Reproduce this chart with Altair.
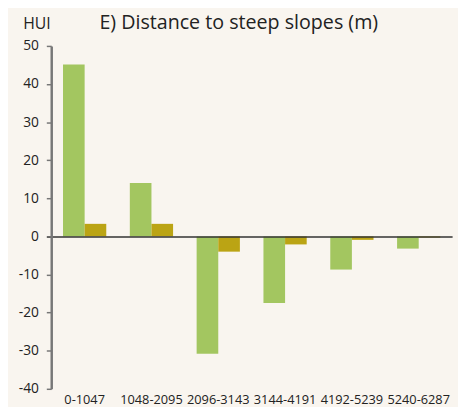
import altair as alt
import pandas as pd

categories = ["0-1047", "1048-2095", "2096-3143", "3144-4191", "4192-5239", "5240-6287"]
series_a = [45.1, 14.0, -30.8, -17.5, -8.7, -3.2]
series_b = [3.3, 3.3, -4.0, -2.1, -0.9, -0.3]
series_names = ["A", "B"]
y_ticks = [50, 40, 30, 20, 10, 0, -10, -20, -30, -40]

rows = []
for c, a, b in zip(categories, series_a, series_b):
    rows.append({"cat": c, "series": "A", "value": a})
    rows.append({"cat": c, "series": "B", "value": b})
df = pd.DataFrame(rows)

BG = "#f9f5ef"
FONT = "Open Sans"

is_zero = "datum.value == 0"

chart = alt.Chart(df).mark_bar().encode(
    x=alt.X("cat:N", sort=categories,
            scale=alt.Scale(paddingInner=0, paddingOuter=0),
            axis=alt.Axis(title=None, labelAngle=0, domain=False, ticks=False,
                          labelFont=FONT, labelFontSize=13, labelColor="#222",
                          labelPadding=5)),
    xOffset=alt.XOffset("series:N", sort=series_names,
                        scale=alt.Scale(paddingInner=0, paddingOuter=0.545)),
    y=alt.Y("value:Q", scale=alt.Scale(domain=[-40, 50], nice=False, zero=False),
            axis=alt.Axis(values=y_ticks, title="HUI", titleAngle=0,
                          labelExpr="toString(datum.value)",
                          titleX=-29, titleY=-18, titleAlign="left",
                          titleBaseline="alphabetic",
                          titleFont=FONT, titleFontSize=16, titleFontWeight="normal",
                          titleColor="#222", labelOverlap=False,
                          labelFont=FONT, labelFontSize=14, labelColor="#222",
                          labelPadding=8,
                          domainColor="#777", domainWidth=2.5,
                          tickColor={"condition": {"test": is_zero, "value": "#333"}, "value": "#777"},
                          tickSize=5, tickWidth=1.5,
                          grid=True,
                          gridColor="#333",
                          gridWidth=1.5,
                          gridOpacity={"condition": {"test": is_zero, "value": 1}, "value": 0},
                          zindex=1)),
    color=alt.Color("series:N", sort=series_names,
                    scale=alt.Scale(domain=series_names, range=["#a3c660", "#bba414"]),
                    legend=None),
).properties(
    width=408, height=349,
    background=BG,
    autosize=alt.AutoSizeParams(type="none"),
    padding={"left": 44, "top": 35, "right": 6, "bottom": 20},
    title=alt.TitleParams("E) Distance to steep slopes (m)", anchor="start", dx=49,
                          dy=32, offset=14, font=FONT, fontSize=20, fontWeight="normal",
                          color="#222", frame="group"),
).configure_view(stroke=None, fill=BG)

chart.save("out.html", embed_options={"renderer": "svg", "actions": False})
